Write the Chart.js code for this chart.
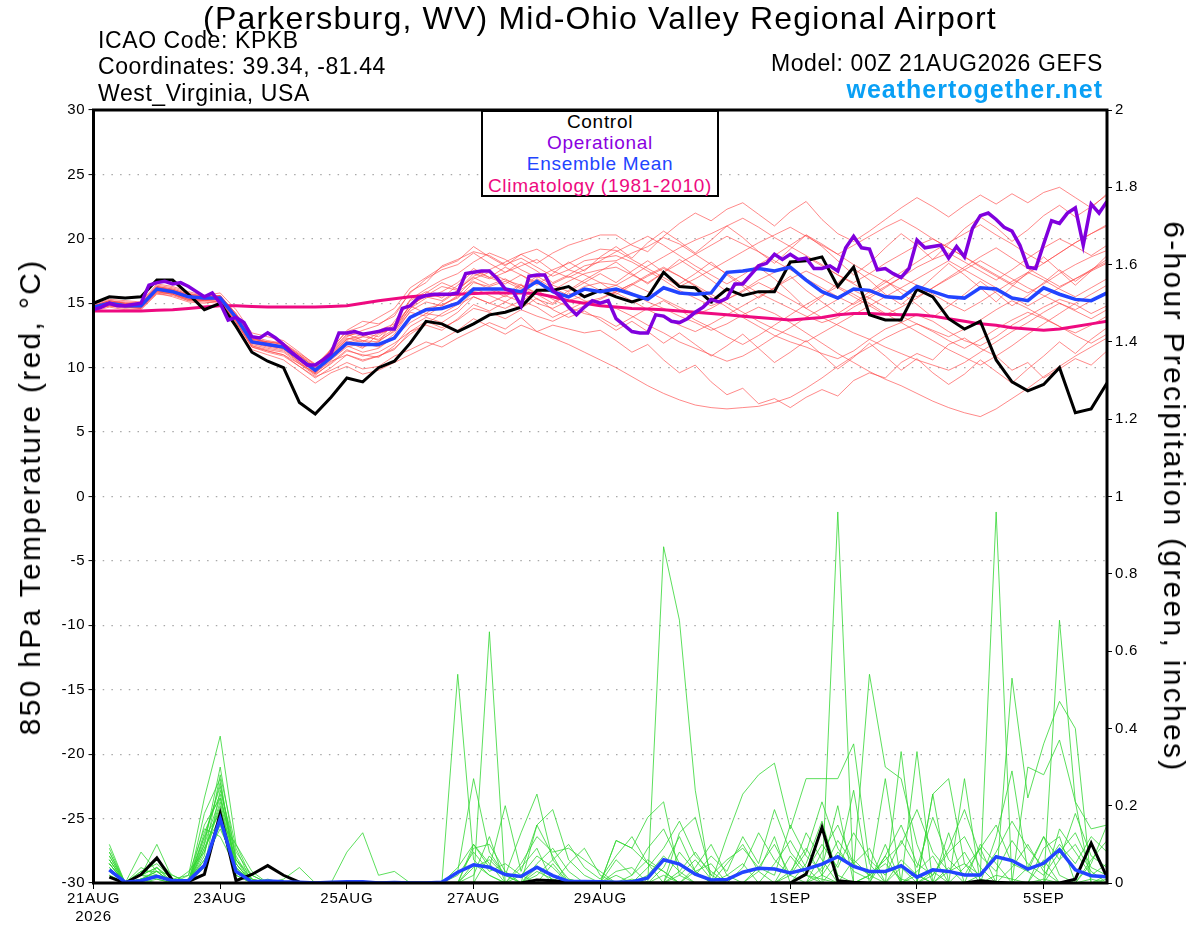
<!DOCTYPE html>
<html>
<head>
<meta charset="utf-8">
<title>KPKB GEFS 850 hPa temperature and 6-hour precipitation</title>
<script src="https://cdn.jsdelivr.net/npm/chart.js@4.4.1/dist/chart.umd.min.js"></script>
<style>
  body { margin: 0; background: #fff; font-family: "Liberation Sans", Arial, Helvetica, sans-serif; }
  #wrap { position: relative; width: 1200px; height: 927px; overflow: hidden; }
  #c { position: absolute; left: 0; top: 0; }
  .t { position: absolute; white-space: nowrap; line-height: 1; color: #000; }
  .hdr { font-size: 23px; letter-spacing: 0.6px; }
  #title { left: 0; width: 1200px; text-align: center; top: 2px; font-size: 32px; letter-spacing: 1.2px; }
  #site { right: 97px; top: 77px; font-size: 25px; font-weight: bold; letter-spacing: 1px; color: #0aa0f5; }
  #legend { position: absolute; left: 481px; top: 110px; width: 234px; height: 83px; border: 2px solid #000; background: #fff; }
  .lg { left: 481px; width: 238px; text-align: center; font-size: 19px; letter-spacing: 0.7px; }
  .ax { font-size: 30px; letter-spacing: 2.3px; top: 497px; }
  #ytitle { left: 30px; transform: translate(-50%, -50%) rotate(-90deg); }
  #y2title { left: 1174px; transform: translate(-50%, -50%) rotate(90deg); }
</style>
</head>
<body>
<div id="wrap">
  <canvas id="c" width="1200" height="927"></canvas>
  <div class="t" id="title">(Parkersburg, WV) Mid-Ohio Valley Regional Airport</div>
  <div class="t hdr" style="left:98px;top:29px">ICAO Code: KPKB</div>
  <div class="t hdr" style="left:98px;top:55px">Coordinates: 39.34, -81.44</div>
  <div class="t hdr" style="left:98px;top:82px">West_Virginia, USA</div>
  <div class="t hdr" style="right:97px;top:52px">Model: 00Z 21AUG2026 GEFS</div>
  <div class="t" id="site">weathertogether.net</div>
  <div id="legend"></div>
  <div class="t lg" style="top:112px;color:#000">Control</div>
  <div class="t lg" style="top:133px;color:#8a00e0">Operational</div>
  <div class="t lg" style="top:154px;color:#2244ff">Ensemble Mean</div>
  <div class="t lg" style="top:176px;color:#ee0a80">Climatology (1981-2010)</div>
  <div class="t ax" id="ytitle">850 hPa Temperature (red, °C)</div>
  <div class="t ax" id="y2title">6-hour Precipitation (green, inches)</div>
</div>
<script>
// x axis: forecast hours from 00Z 21AUG2026, labels every 2 days
const tickHours = [0, 48, 96, 144, 192, 264, 312, 360];
const tickLabels = [['21AUG', '2026'], '23AUG', '25AUG', '27AUG', '29AUG', '1SEP', '3SEP', '5SEP'];

// 850 hPa temperature (C), 6-hourly from hour 0
const controlTemp = [15.0,15.5,15.4,15.5,16.8,16.8,15.7,14.5,15.0,13.2,11.2,10.5,10.0,7.3,6.4,7.7,9.2,8.9,10.0,10.5,11.9,13.6,13.4,12.8,13.4,14.1,14.3,14.7,16.0,16.0,16.3,15.5,16.0,15.5,15.1,15.5,17.4,16.3,16.2,15.1,16.1,15.6,15.9,15.9,18.2,18.3,18.6,16.3,17.8,14.1,13.7,13.7,16.1,15.5,13.8,13.0,13.6,10.6,8.9,8.2,8.7,10.0,6.5,6.8,8.8];
const meanTemp = [14.7,15.0,14.8,14.8,16.1,15.9,15.5,15.4,15.4,13.9,12.0,11.8,11.6,10.7,9.8,10.8,11.9,11.8,11.8,12.3,13.9,14.5,14.6,15.0,16.1,16.1,16.1,15.9,16.7,15.9,15.5,16.1,15.9,16.1,15.7,15.3,16.2,15.8,15.7,15.8,17.4,17.5,17.7,17.5,17.8,16.8,15.9,15.4,16.1,16.0,15.5,15.4,16.3,15.9,15.5,15.4,16.2,16.1,15.4,15.2,16.2,15.7,15.3,15.2,15.8];
const climoTemp = [14.4,14.4,14.4,14.4,14.45,14.5,14.6,14.7,14.8,14.8,14.75,14.7,14.7,14.7,14.7,14.75,14.8,15.0,15.2,15.35,15.5,15.6,15.65,15.7,15.75,15.8,15.8,15.8,15.75,15.5,15.2,15.0,14.8,14.7,14.6,14.55,14.5,14.4,14.3,14.2,14.1,14.0,13.9,13.8,13.7,13.8,13.9,14.1,14.2,14.2,14.15,14.1,14.1,14.0,13.8,13.6,13.4,13.3,13.1,13.0,12.9,13.0,13.2,13.4,13.6];
// operational run is 3-hourly
const operTemp = [
  14.5,14.7,15.0,14.8,14.8,14.9,15.0,16.4,16.6,16.7,16.5,16.6,16.3,15.9,15.5,15.8,
  15.0,13.7,13.9,13.5,12.4,12.3,12.7,12.3,11.8,11.2,10.7,10.2,10.2,10.6,11.1,12.7,
  12.7,12.8,12.6,12.7,12.8,13.0,13.0,14.6,14.8,15.4,15.6,15.7,15.7,15.7,15.8,17.3,
  17.4,17.5,17.5,16.9,16.1,15.9,14.8,17.1,17.2,17.2,16.0,15.5,14.7,14.1,14.7,15.2,
  15.0,15.2,13.8,13.3,12.8,12.7,12.7,14.1,14.0,13.6,13.5,13.8,14.3,14.7,15.3,15.1,
  15.4,16.5,16.5,17.2,17.9,18.1,18.8,18.4,18.8,18.4,18.5,17.7,17.7,17.9,17.5,19.3,
  20.2,19.3,19.2,17.6,17.7,17.3,17.0,17.7,19.9,19.3,19.4,19.5,18.5,19.4,18.6,20.8,
  21.8,22.0,21.5,20.9,20.6,19.5,17.8,17.7,19.6,21.4,21.2,22.0,22.4,19.5,22.7,22.0,
  22.9];

// ensemble members, 850 hPa temperature, 6-hourly
const tempMembers = [
  [14.6,15.1,15.0,14.9,16.3,16.0,15.6,15.3,15.6,14.2,12.3,11.9,11.5,10.4,9.5, 11.5,12.8,13.2,13.9,14.6,16.2,17.0,17.8,18.3,19.4,18.6,17.9,18.8,18.1,18.9,19.5,19.9,20.3, 20.3,19.5,19.0,20.2,21.2,22.0,21.4,22.3,22.8,21.9,21.0,22.1,22.9,21.5,20.4,19.8,20.6,21.5,22.4,23.2,22.5,21.7,22.6,23.4,22.7,23.5,22.8,23.6,24.0,23.2,22.4,23.5],
  [14.5,14.8,14.6,14.7,15.9,15.8,15.3,15.2,15.1,13.5,11.6,11.2,10.9,10.1,9.3, 9.8,10.4,9.9,10.1,10.9,11.4,12.0,11.6,12.3,12.9,13.5,13.0,13.9,12.8,13.3,13.0,12.7,12.9, 12.1,11.2,11.8,10.6,9.6,10.2,8.9,7.9,8.4,7.2,7.6,6.9,7.7,8.3,7.8,9.0,9.6,9.2,10.4,11.1,10.6,11.8,12.3,11.5,10.9,9.8,10.4,9.2,9.9,10.7,10.2,11.3],
  [14.8,15.2,15.1,15.0,16.4,16.2,15.8,15.5,15.5,14.0,12.2,12.0,11.9,11.1,10.3, 11.2,12.4,12.9,13.3,14.2,15.8,16.9,17.6,18.0,18.9,18.1,17.4,18.2,17.5,16.6,17.2,17.9,18.2, 18.3,18.9,19.4,20.1,19.6,18.8,18.0,17.3,16.5,15.8,15.2,14.6,14.0,13.5,13.9,14.7,15.4,16.2,17.0,17.8,18.4,18.9,18.2,17.5,16.8,17.6,18.5,19.3,20.0,19.4,18.7,19.5],
  [14.6,14.9,14.7,14.6,15.8,15.5,15.1,15.0,15.2,13.6,11.7,11.3,11.0,10.3,9.6, 10.5,11.0,10.6,10.9,11.5,12.6,13.4,14.2,14.9,15.5,15.0,14.6,15.2,14.7,13.9,14.5,15.1,15.4, 15.9,16.5,17.2,17.8,17.1,16.3,15.5,14.7,13.9,13.2,12.5,12.0,11.6,11.1,10.7,11.3,12.2,13.0,13.5,14.1,13.6,12.8,12.1,11.7,12.4,13.3,14.0,14.7,15.3,14.9,14.2,14.8],
  [14.9,15.3,15.2,15.1,16.5,16.3,15.9,15.6,15.8,14.5,12.7,12.4,12.1,11.2,10.2, 11.4,12.9,13.6,13.4,14.0,15.9,16.6,17.9,18.4,19.0,18.7,18.0,18.5,17.8,17.1,17.6,18.3,18.5, 18.7,18.2,17.5,16.8,16.0,15.4,14.8,15.3,16.0,16.8,17.4,18.1,18.6,17.9,17.2,16.6,17.3,18.1,18.8,19.5,20.0,19.3,18.6,17.8,17.1,16.4,15.8,16.5,17.3,18.0,18.6,19.1],
  [14.4,14.7,14.5,14.5,15.7,15.6,15.2,15.1,15.0,13.3,11.4,11.0,10.6,9.7,8.8, 9.6,10.1,9.5,9.8,10.4,11.0,11.6,12.2,12.9,13.8,13.2,12.6,13.3,12.8,12.3,11.8,11.2,10.6, 10.0,9.3,8.6,8.0,7.5,7.1,6.9,6.8,6.9,7.0,7.3,7.7,8.4,9.2,10.1,10.9,11.6,12.3,12.9,13.4,12.8,12.1,11.5,12.2,13.0,13.7,14.3,13.8,13.2,12.7,13.3,14.0],
  [14.7,15.0,14.9,14.8,16.0,15.8,15.4,15.3,15.3,13.8,11.9,11.7,11.5,10.6,9.7, 10.9,12.1,11.6,12.0,12.9,14.3,14.0,14.8,15.5,16.2,15.6,15.1,15.9,15.0,14.6,15.2,15.6,16.0, 16.4,15.8,15.1,14.6,14.0,13.5,12.9,13.4,14.1,14.7,14.2,13.5,12.7,11.9,11.1,10.4,9.7,9.1,8.6,8.0,7.4,6.9,6.5,6.2,6.8,7.6,8.4,9.3,10.1,10.9,11.6,12.3],
  [14.8,15.1,14.9,14.9,16.2,16.0,15.6,15.5,15.4,13.9,12.0,11.8,11.6,10.8,9.9, 11.0,11.9,12.4,12.2,13.0,14.9,15.5,15.2,16.0,17.3,16.9,17.4,17.9,18.4,17.5,17.0,17.6,18.3, 19.0,19.6,20.2,19.5,18.7,17.9,17.2,16.5,17.2,18.0,18.7,19.5,20.3,19.6,18.8,18.0,17.3,16.7,16.1,15.5,16.2,17.0,17.8,18.6,19.3,18.5,17.7,17.0,16.3,16.9,17.6,18.2],
  [14.5,14.9,14.8,14.7,15.9,15.7,15.3,15.2,15.3,13.7,11.8,11.5,11.3,10.4,9.5, 10.3,11.3,11.0,10.8,11.7,13.2,13.9,13.5,14.3,15.5,15.0,15.6,15.1,16.0,15.3,14.7,14.2,13.9, 13.2,13.9,14.6,15.2,14.5,13.7,13.1,12.4,11.8,12.5,13.3,14.1,14.9,15.6,16.3,15.7,15.0,14.2,13.5,12.8,12.1,11.4,10.8,10.2,10.9,11.7,12.6,13.4,14.2,15.0,15.7,16.4],
  [14.7,15.0,14.9,14.8,16.1,15.9,15.5,15.4,15.5,14.1,12.3,12.0,11.8,11.0,10.0, 11.3,12.5,12.7,12.4,13.3,14.8,15.6,16.3,16.0,17.1,17.6,18.2,18.8,19.2,18.5,17.6,17.2,16.6, 16.4,17.1,17.9,18.6,19.3,19.9,20.4,21.0,21.6,20.9,20.1,19.4,18.7,18.0,17.2,16.5,15.8,16.6,17.4,18.2,19.0,19.7,20.4,21.1,20.3,19.6,18.8,18.1,18.9,19.7,20.4,21.1],
  [14.6,14.9,14.8,14.7,16.0,15.8,15.4,15.3,15.4,13.9,12.0,11.7,11.5,10.7,9.8, 10.7,11.7,11.2,11.5,12.4,13.5,14.2,14.0,14.6,15.9,16.2,15.7,16.5,15.3,14.9,15.8,15.2,14.8, 14.6,14.0,13.3,12.7,12.0,11.5,11.0,10.5,10.9,11.6,12.4,13.1,13.9,14.6,15.3,16.0,15.4,14.7,14.0,13.4,12.9,12.4,13.0,13.7,14.5,15.2,14.6,13.9,13.2,12.5,11.9,12.6],
  [14.8,15.2,15.0,15.0,16.3,16.1,15.7,15.6,15.6,14.1,12.2,12.0,11.8,10.9,10.0, 11.1,12.2,12.6,12.1,12.8,14.6,15.4,15.9,16.6,17.7,17.0,16.5,17.2,16.6,16.0,16.7,17.3,17.6, 17.8,17.2,16.6,17.4,18.1,18.8,19.5,20.2,19.6,19.0,18.3,17.6,16.9,16.2,15.5,14.9,15.6,16.3,17.0,16.4,15.7,15.0,14.4,15.1,15.9,16.7,17.4,16.8,16.1,15.5,16.2,16.9],
  [14.5,14.8,14.7,14.6,15.9,15.7,15.3,15.3,15.3,13.6,11.7,11.4,11.2,10.3,9.4, 10.4,11.4,10.9,11.2,11.9,12.8,13.6,13.1,13.7,14.6,14.3,13.8,14.5,14.0,13.6,14.2,14.8,15.3, 15.9,16.5,15.9,15.3,14.7,14.1,14.6,15.3,15.9,16.6,16.0,15.3,14.6,13.9,13.3,12.7,12.2,11.6,11.1,10.6,10.2,9.8,10.4,11.2,12.0,12.8,13.5,14.3,15.0,14.4,13.8,14.5],
  [14.7,15.1,14.9,14.9,16.2,16.0,15.6,15.4,15.4,13.9,12.1,11.9,11.7,10.8,9.9, 11.0,12.2,12.4,12.9,13.4,15.3,16.1,16.8,17.3,18.2,18.9,18.4,17.6,17.0,17.6,18.1,18.7,19.2, 19.1,18.4,17.7,17.0,16.3,16.9,17.6,18.3,19.0,19.7,20.3,20.9,20.2,19.5,18.8,19.5,20.2,20.9,21.5,20.8,20.0,19.3,18.6,17.9,17.2,16.5,17.3,18.1,18.9,19.7,20.4,21.0],
  [14.6,15.0,14.8,14.8,16.0,15.8,15.5,15.3,15.3,13.8,11.9,11.6,11.4,10.5,9.6, 10.6,11.6,11.9,11.6,12.3,13.9,14.6,14.9,15.4,16.6,16.3,16.7,16.1,16.9,16.2,15.6,16.3,16.6, 15.8,15.2,14.5,13.9,13.3,12.8,13.4,14.1,14.8,15.5,16.2,16.9,17.5,16.9,16.2,15.5,14.8,14.1,14.7,15.4,16.2,16.9,17.6,18.3,17.6,16.9,16.2,15.6,15.0,14.5,15.2,15.9],
  [14.8,15.1,15.0,14.9,16.2,16.0,15.6,15.5,15.5,14.0,12.1,11.9,11.6,10.6,9.7, 10.8,11.9,12.1,11.7,12.6,14.4,15.1,14.8,15.6,16.9,17.4,16.8,16.4,15.8,16.5,17.1,16.6,16.0, 15.7,16.4,17.1,17.7,17.1,16.4,15.7,15.0,14.3,13.6,13.0,12.5,12.0,12.7,13.4,14.1,14.8,15.5,16.2,16.9,17.6,18.3,17.6,16.9,16.2,15.5,14.8,15.5,16.2,16.9,17.5,18.1],
  [14.6,15.0,14.8,14.8,16.0,15.9,15.5,15.3,15.4,13.8,12.0,11.7,11.5,10.6,9.9, 10.9,12.0,11.5,12.6,13.1,14.8,14.2,15.1,15.9,16.7,16.1,15.5,16.4,15.7,15.0,16.0,16.8,17.5, 18.2,17.3,16.5,17.4,18.4,17.6,16.8,15.9,16.7,17.8,16.9,15.8,14.6,15.5,16.6,17.7,16.8,15.7,14.9,15.9,17.0,18.1,17.2,16.2,15.1,16.3,17.4,18.6,17.5,16.4,17.5,18.7],
  [14.7,15.1,14.9,14.9,16.2,16.0,15.5,15.4,15.5,14.0,12.1,11.8,11.7,10.9,10.1, 11.4,12.6,12.1,12.0,13.6,15.2,15.9,15.4,16.4,17.5,17.0,17.8,17.2,16.4,17.3,18.2,17.5,18.6, 19.4,18.5,19.7,20.6,19.8,18.9,19.9,21.0,20.1,19.0,18.1,19.2,20.3,19.4,18.3,17.2,18.1,19.3,20.4,19.5,18.4,19.6,20.8,21.7,20.9,19.8,20.7,21.8,22.6,21.7,22.5,23.4],
  [14.5,14.8,14.7,14.6,15.8,15.7,15.2,15.2,15.2,13.5,11.6,11.3,11.0,10.1,9.2, 10.0,11.0,10.5,10.9,11.4,12.8,13.3,12.9,13.8,14.9,14.4,15.1,14.6,15.4,14.5,13.9,14.4,13.7, 12.9,13.6,12.8,11.9,12.7,11.8,10.9,11.7,12.6,11.5,10.4,11.2,12.1,11.0,9.9,10.8,11.9,10.9,9.8,10.7,9.6,8.7,9.5,10.6,9.7,8.8,9.9,10.9,12.0,11.1,12.2,13.1],
  [14.8,15.2,15.0,15.0,16.3,16.1,15.7,15.5,15.6,14.2,12.4,12.1,11.9,11.0,10.2, 11.2,12.3,12.0,12.7,13.0,14.6,15.8,16.6,16.1,17.0,16.4,16.9,16.2,17.1,16.4,15.9,16.6,17.3, 16.6,17.5,18.3,17.4,16.5,17.3,18.2,17.2,16.3,15.4,16.2,17.1,16.0,15.1,14.2,15.0,15.9,16.8,15.8,14.9,13.9,14.8,15.7,16.7,15.8,14.8,15.6,16.6,17.6,16.7,17.6,18.4]
];

// 6-hour precipitation (inches), first value is hour 6
const controlPrecip = [0.015,0,0.022,0.065,0.006,0.004,0.022,0.18,0.006,0.022,0.045,0.02,0.002,0,0,0,0,0,0,0,0,0,0,0,0,0,0,0.008,0.006,0.002,0,0,0,0,0,0,0,0,0,0,0,0,0,0,0.023,0.144,0.006,0.002,0,0,0,0,0,0,0,0.006,0.002,0,0,0,0,0.01,0.103,0.015];
const meanPrecip = [0.034,0.002,0.006,0.017,0.006,0.006,0.045,0.166,0.03,0.003,0.005,0.003,0.002,0,0.002,0.003,0.003,0,0.001,0,0,0.002,0.028,0.047,0.041,0.022,0.017,0.041,0.019,0.004,0.004,0.003,0.002,0.003,0.013,0.06,0.049,0.023,0.008,0.009,0.028,0.038,0.036,0.026,0.036,0.049,0.068,0.043,0.03,0.03,0.045,0.015,0.034,0.03,0.021,0.021,0.068,0.058,0.036,0.051,0.086,0.034,0.019,0.016];
const precipMembers = [
  [0.10,0,0.03,0.05,0.01,0.02,0.22,0.38, 0.10,0.01,0,0,0,0,0,0, 0,0,0,0,0,0,0.54,0.06, 0.02,0,0,0.03,0.01,0,0,0, 0,0,0,0,0.02,0.06,0.01,0, 0,0.04,0.10,0.02,0,0,0.96,0, 0.02,0.05,0.01,0,0,0.03,0.08,0.01, 0,0,0.04,0.12,0.02,0,0,0.01],
  [0.07,0,0.01,0.02,0,0.01,0.10,0.30, 0.06,0,0,0.01,0.04,0,0,0.08, 0.13,0.02,0.03,0,0,0,0,0, 0.65,0,0.02,0,0,0.01,0,0, 0,0.01,0,0,0,0,0,0.02, 0.05,0,0,0,0,0.02,0.08,0.04, 0.54,0.30,0.27,0.10,0,0,0,0, 0.02,0.01,0,0,0.06,0.10,0.03,0],
  [0.05,0,0.02,0.10,0.01,0,0.04,0.24, 0.08,0.02,0,0,0,0,0,0, 0,0,0,0,0,0,0.03,0.27, 0.08,0.02,0.13,0.23,0.06,0.01,0,0, 0,0,0,0.87,0.68,0.24,0,0, 0,0,0,0,0.02,0.01,0,0, 0,0,0.04,0,0.23,0.27,0.05,0, 0,0,0,0.01,0,0,0.05,0.15],
  [0.04,0,0.08,0.03,0.02,0,0.15,0.22, 0.05,0,0.01,0,0,0,0,0, 0,0,0,0,0,0,0,0.10, 0.04,0.20,0.03,0.15,0.19,0.06,0.02,0, 0.11,0.09,0.17,0.21,0.02,0,0,0.12, 0.23,0.28,0.31,0.14,0.27,0.27,0.27,0.36, 0.05,0,0,0.02,0,0,0,0, 0,0,0,0,0,0,0,0],
  [0.03,0,0,0.01,0,0.03,0.08,0.20, 0.03,0.01,0,0,0,0,0,0, 0,0,0,0,0,0,0,0, 0,0,0,0.15,0.07,0,0,0, 0,0,0,0,0.13,0.17,0.02,0, 0,0,0,0,0,0.04,0.20,0, 0,0,0.34,0,0,0,0,0.02, 0.96,0,0,0,0,0,0.01,0],
  [0.06,0,0.04,0.02,0,0,0.12,0.18, 0.04,0,0,0,0,0,0,0, 0,0,0,0,0,0,0,0, 0,0,0.05,0.12,0.08,0.09,0.06,0.03, 0,0.02,0.06,0.03,0,0,0,0, 0,0,0.05,0.11,0.04,0,0,0, 0,0,0.06,0.02,0,0,0.04,0.09, 0,0.53,0.22,0.36,0.47,0.40,0,0],
  [0.02,0,0.01,0,0,0.01,0.05,0.16, 0.10,0.03,0,0,0,0,0,0, 0,0,0,0,0,0,0,0.05, 0.02,0,0,0.04,0,0,0,0, 0,0,0,0.02,0,0,0,0, 0,0,0,0.02,0.13,0.06,0,0, 0.02,0,0,0.34,0,0,0.27,0, 0,0,0,0,0.68,0.21,0,0],
  [0.08,0,0.02,0.06,0.02,0,0.18,0.27, 0.02,0,0,0,0,0,0,0, 0,0,0,0,0,0,0,0.09, 0.10,0.03,0,0,0.05,0,0,0, 0.11,0.09,0.05,0.03,0,0,0,0, 0,0,0,0,0,0,0,0.06, 0.02,0.27,0,0,0.03,0,0,0, 0.12,0.29,0.03,0,0,0,0,0],
  [0.05,0,0.02,0.02,0,0.02,0.14,0.12, 0.04,0,0,0,0,0,0,0, 0,0,0,0,0,0,0,0, 0,0,0,0,0,0.05,0.09,0.02, 0,0,0,0.04,0.12,0.03,0,0.05, 0.10,0.03,0,0,0,0.08,0.15,0.05, 0.09,0,0,0,0,0,0,0, 0,0,0.30,0.28,0.37,0.21,0.14,0.15],
  [0.09,0,0,0.04,0.01,0,0.10,0.22, 0.07,0,0,0,0,0,0,0, 0,0,0,0,0,0,0,0, 0.07,0.02,0,0,0,0,0,0, 0,0,0.02,0.07,0.03,0,0,0, 0,0,0,0.03,0.09,0.02,0,0, 0,0,0,0,0.23,0,0,0, 0,0.04,0.10,0.03,0,0,0.06,0.11],
  [0.03,0,0,0,0,0.01,0.06,0.14, 0.05,0,0,0,0,0,0,0, 0,0,0,0,0,0,0,0, 0,0,0,0,0,0,0,0, 0,0,0,0,0,0,0,0, 0,0.03,0.12,0,0,0,0,0, 0,0.10,0,0,0,0.04,0,0, 0,0,0,0.06,0,0,0,0],
  [0.06,0,0.03,0.03,0,0,0.09,0.19, 0.06,0.01,0,0,0,0,0,0, 0,0,0,0,0,0,0,0, 0,0,0,0,0,0,0,0, 0,0,0,0,0,0.04,0.10,0.02, 0,0,0,0,0.05,0.16,0.02,0, 0,0,0,0,0.02,0.08,0.12,0.04, 0,0,0,0,0.14,0.08,0.02,0.05],
  [0.04,0,0.02,0.01,0,0,0.07,0.28, 0.09,0,0,0,0,0,0,0, 0,0,0,0,0,0,0,0, 0,0,0.04,0.09,0,0,0,0, 0,0,0,0,0,0.03,0.05,0, 0,0,0,0.07,0.02,0,0,0, 0,0.07,0,0,0,0.13,0,0, 0,0,0,0,0,0,0,0],
  [0.07,0,0.01,0.03,0,0,0.11,0.26, 0.03,0,0,0,0,0,0,0, 0,0,0,0,0,0,0,0, 0,0,0,0,0,0,0,0, 0,0,0,0,0.08,0.03,0,0, 0,0,0,0,0,0,0,0, 0,0,0,0.03,0.07,0,0,0, 0,0,0,0.09,0.12,0,0,0.02],
  [0.05,0,0.02,0.04,0,0,0.13,0.23, 0.05,0,0,0,0,0,0,0, 0,0,0,0,0,0,0.04,0.10, 0.05,0,0,0,0,0,0,0, 0.03,0.04,0,0,0,0,0,0, 0,0,0,0,0,0,0,0, 0,0,0,0,0,0,0,0.10, 0.05,0,0,0,0,0,0,0],
  [0.06,0,0,0.02,0,0,0.08,0.21, 0.04,0,0,0,0,0,0,0, 0,0,0,0,0,0,0,0.02, 0.12,0,0,0,0,0,0,0, 0,0,0,0,0,0,0,0, 0,0,0,0,0,0,0.05,0.24, 0,0,0,0,0,0,0,0, 0,0,0,0,0,0,0,0],
  [0.02,0,0.01,0.03,0,0,0.06,0.15, 0.03,0,0,0,0,0,0,0, 0,0,0,0,0,0,0.02,0.08, 0.03,0.05,0.02,0.07,0.04,0,0,0, 0.06,0.02,0.09,0.14,0.05,0.02,0.07,0.03, 0.12,0.05,0.19,0.08,0.03,0.10,0.04,0.13, 0.06,0.02,0.11,0.04,0.17,0.06,0.02,0.09, 0.15,0.05,0.03,0.12,0.06,0.18,0.07,0.04],
  [0.05,0,0.01,0.02,0.01,0,0.09,0.17, 0.02,0,0,0,0,0,0,0, 0,0,0,0,0,0,0,0.04, 0.06,0.02,0,0.05,0.09,0.03,0,0, 0.02,0,0.04,0.09,0.16,0.07,0.03,0, 0.04,0.13,0.06,0.02,0.08,0.21,0.09,0.03, 0.01,0.07,0.15,0.05,0.02,0.09,0.19,0.07, 0.03,0.11,0.05,0.02,0.08,0.13,0.04,0.02],
  [0.08,0,0.02,0.04,0,0.01,0.12,0.25, 0.06,0.02,0,0,0,0,0,0, 0,0,0,0,0,0,0,0, 0,0,0,0.02,0.06,0.10,0.04,0.01, 0.07,0.12,0.05,0,0.03,0.08,0.02,0.06, 0.09,0.04,0.02,0.15,0.07,0.03,0.11,0.05, 0.02,0.06,0.10,0.19,0.08,0.03,0.05,0.02, 0.08,0.16,0.09,0.04,0.10,0.05,0.12,0.08]
];

const FONT = "'Liberation Sans', Arial, Helvetica, sans-serif";
Chart.defaults.font.family = FONT;
Chart.defaults.color = '#000';

// turn a value list into points on the hour axis
function toPoints(values, stepHours, firstHour) {
  return values.map((v, i) => ({ x: firstHour + i * stepHours, y: v }));
}

const datasets = [];
tempMembers.forEach(m => datasets.push({
  data: toPoints(m, 6, 0), yAxisID: 'y', order: 20,
  borderColor: 'rgba(255,70,70,0.8)', borderWidth: 0.8
}));
precipMembers.forEach(m => datasets.push({
  data: toPoints(m, 6, 6), yAxisID: 'y2', order: 19,
  borderColor: 'rgb(50,215,50)', borderWidth: 0.8
}));
datasets.push({ data: toPoints(climoTemp, 6, 0), yAxisID: 'y', order: 6, borderColor: '#ee0a80', borderWidth: 3 });
datasets.push({ data: toPoints(controlTemp, 6, 0), yAxisID: 'y', order: 5, borderColor: '#000', borderWidth: 3 });
datasets.push({ data: toPoints(controlPrecip, 6, 6), yAxisID: 'y2', order: 5, borderColor: '#000', borderWidth: 3 });
datasets.push({ data: toPoints(meanPrecip, 6, 6), yAxisID: 'y2', order: 4, borderColor: '#2244ff', borderWidth: 3.5 });
datasets.push({ data: toPoints(meanTemp, 6, 0), yAxisID: 'y', order: 4, borderColor: '#2244ff', borderWidth: 3.5 });
datasets.push({ data: toPoints(operTemp, 3, 0), yAxisID: 'y', order: 3, borderColor: '#8000dd', borderWidth: 3.5 });

// thick black frame round the plot, wider tick lettering
const frame = {
  id: 'frame',
  beforeUpdate(chart) { chart.ctx.letterSpacing = '0.8px'; },
  beforeDraw(chart) { chart.ctx.letterSpacing = '0.8px'; },
  afterDatasetsDraw(chart) {
    const { ctx, chartArea: a } = chart;
    ctx.save();
    ctx.strokeStyle = '#000';
    ctx.lineWidth = 3;
    ctx.strokeRect(a.left, a.top, a.right - a.left, a.bottom - a.top);
    ctx.restore();
  }
};

new Chart(document.getElementById('c'), {
  type: 'line',
  data: { datasets },
  plugins: [frame],
  options: {
    responsive: false,
    animation: false,
    events: [],
    layout: { padding: { top: 110, left: 0, right: 0, bottom: 0 } },
    elements: { point: { radius: 0 }, line: { tension: 0, fill: false } },
    plugins: { legend: { display: false }, tooltip: { enabled: false } },
    scales: {
      x: {
        type: 'linear', min: 0, max: 384,
        afterBuildTicks: s => { s.ticks = tickHours.map(v => ({ value: v })); },
        afterFit: s => { s.height = 44; },
        grid: { drawOnChartArea: false, tickLength: 6, tickColor: '#000', lineWidth: 1 },
        border: { display: false },
        ticks: {
          autoSkip: false, maxRotation: 0, padding: 1,
          font: { size: 15 },
          callback: v => { const i = tickHours.indexOf(v); return i < 0 ? '' : tickLabels[i]; }
        }
      },
      y: {
        position: 'left', min: -30, max: 30,
        afterFit: s => { s.width = 93.5; },
        grid: { color: '#a8a8a8', lineWidth: 1.2, tickLength: 5, tickColor: '#000', tickWidth: 1 },
        border: { display: false, dash: [1.5, 7.2] },
        ticks: { stepSize: 5, padding: 3, font: { size: 15 } }
      },
      y2: {
        position: 'right', min: 0, max: 2,
        afterFit: s => { s.width = 93; },
        grid: { drawOnChartArea: false, tickLength: 5, tickColor: '#000', lineWidth: 1 },
        border: { display: false },
        ticks: { stepSize: 0.2, padding: 3, font: { size: 15 }, callback: v => String(Math.round(v * 10) / 10) }
      }
    }
  }
});
</script>
</body>
</html>
